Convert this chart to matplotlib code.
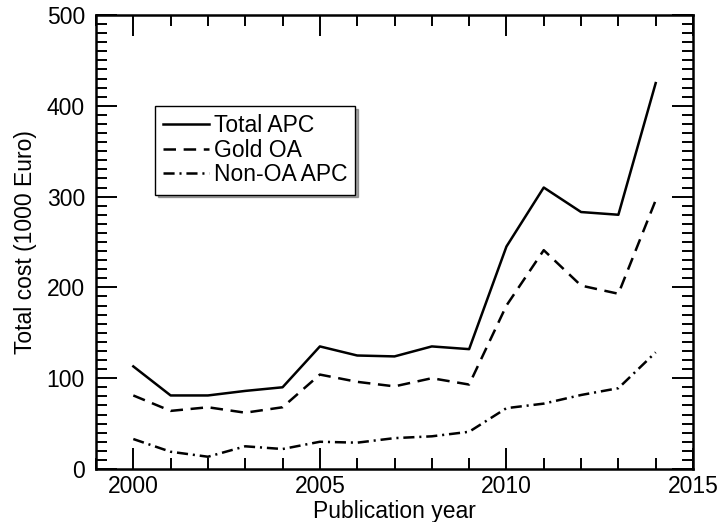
import numpy as np
import matplotlib
matplotlib.use("Agg")
import matplotlib.pyplot as plt
from matplotlib.ticker import MultipleLocator

plt.rcParams['font.family'] = ['Liberation Sans', 'DejaVu Sans']
plt.rcParams['lines.scale_dashes'] = False

# data
years = [2000, 2001, 2002, 2003, 2004, 2005, 2006, 2007,
         2008, 2009, 2010, 2011, 2012, 2013, 2014]
total_apc = [113, 81, 81, 86, 90, 135, 125, 124,
             135, 132, 245, 310, 283, 280, 425]
gold_oa = [81, 64, 68, 62, 68, 104, 96, 91,
           100, 93, 180, 241, 202, 193, 296]
non_oa_apc = [33, 19, 13.5, 25, 22, 30, 29, 34,
              36, 41, 67, 72, 81.5, 89, 128.5]

fs = 16.5

fig = plt.figure(figsize=(7.2, 5.22), dpi=100)
ax = fig.add_axes([96/720, 53/522, 597/720, 454/522])

lw = 1.8
ax.plot(years, total_apc, 'k-', lw=lw, label="Total APC")
ax.plot(years, gold_oa, 'k', lw=lw, dashes=(9, 5.5), label="Gold OA")
ax.plot(years, non_oa_apc, 'k', lw=lw, dashes=(8, 3.5, 1.5, 3.5), label="Non-OA APC")

ax.set_xlim(1999, 2015)
ax.set_ylim(0, 500)
ax.xaxis.set_major_locator(MultipleLocator(5))
ax.xaxis.set_minor_locator(MultipleLocator(1))
ax.yaxis.set_major_locator(MultipleLocator(100))
ax.yaxis.set_minor_locator(MultipleLocator(10))

ax.tick_params(which='both', direction='in', top=True, right=True, width=1.4, labelsize=fs)
ax.tick_params(which='major', length=15)
ax.tick_params(which='minor', length=8)
ax.tick_params(axis='x', which='major', pad=4)
ax.tick_params(axis='y', which='major', pad=8)
for s in ax.spines.values():
    s.set_linewidth(1.8)

ax.set_xlabel("Publication year", fontsize=fs, labelpad=2)
ax.set_ylabel("Total cost (1000 Euro)", fontsize=fs, labelpad=7)

leg = ax.legend(loc='upper left', bbox_to_anchor=(0.099, 0.80), borderaxespad=0,
                fontsize=fs, fancybox=False, shadow=True, framealpha=1,
                edgecolor='k', handlelength=2.0, handletextpad=0.2,
                labelspacing=0.08, borderpad=0.35)
leg.get_frame().set_linewidth(1.0)

fig.savefig("out.png", dpi=100)
